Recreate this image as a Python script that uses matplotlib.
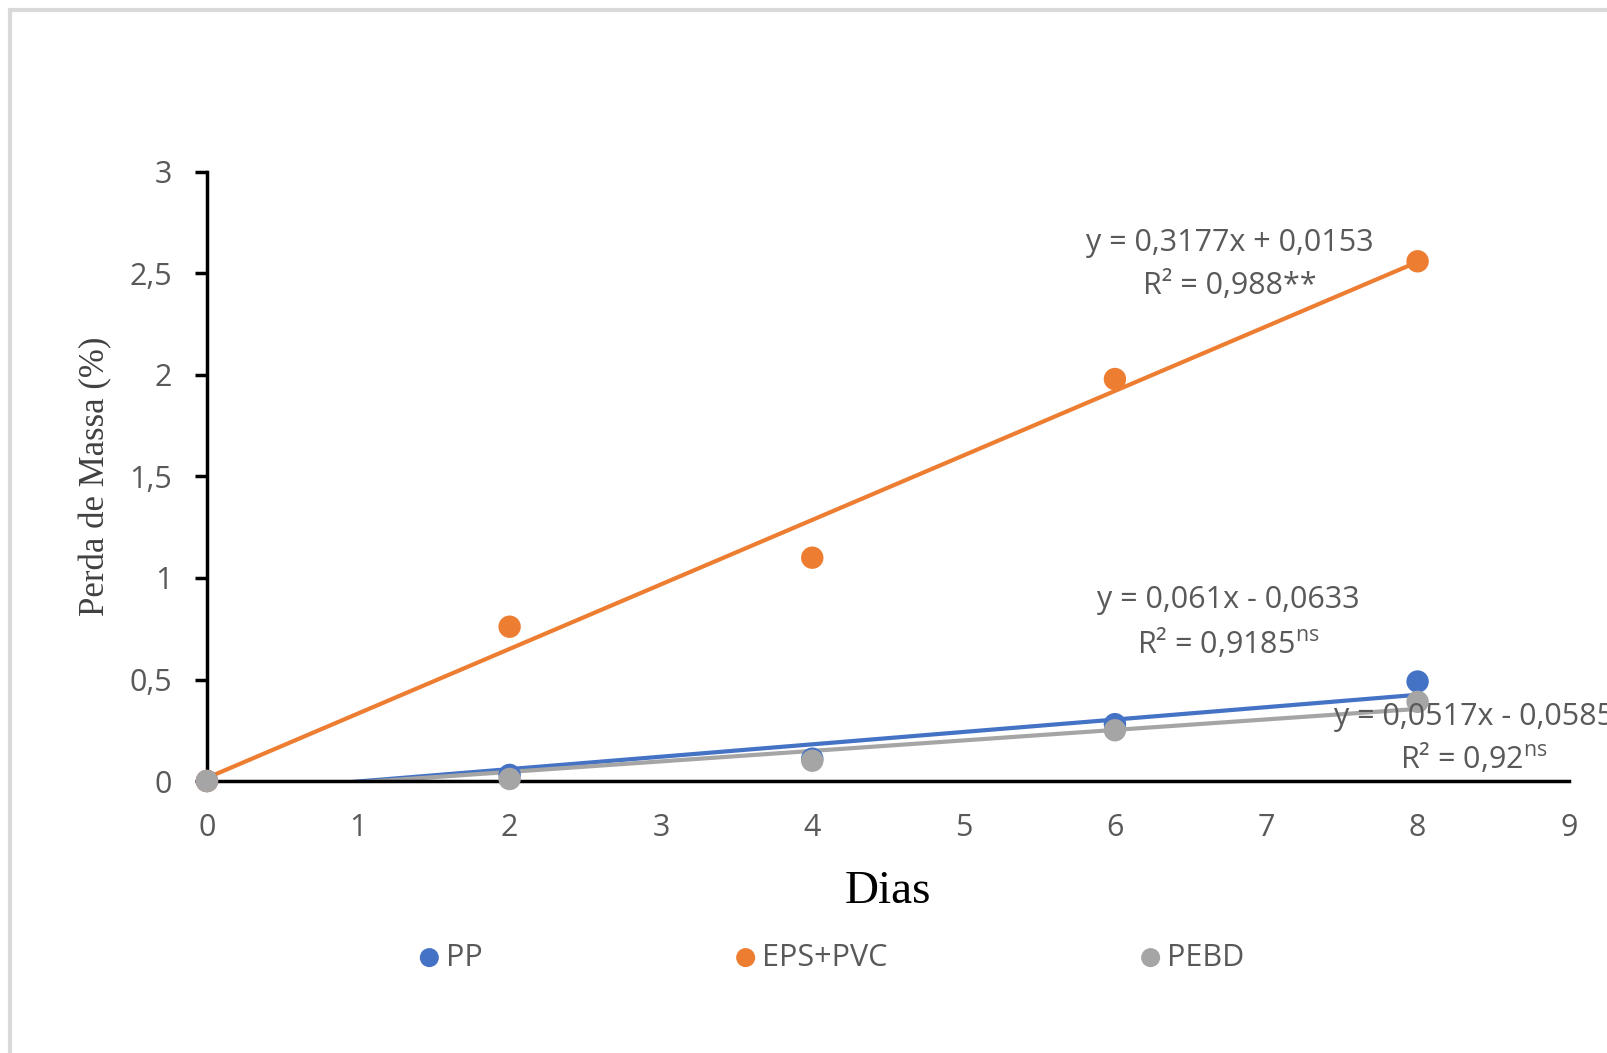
import matplotlib.pyplot as plt
import numpy as np
from matplotlib.patches import Rectangle

# dados
dias = [0, 2, 4, 6, 8]
pp = [0, 0.03, 0.11, 0.28, 0.49]
eps_pvc = [0, 0.76, 1.10, 1.98, 2.56]
pebd = [0, 0.01, 0.10, 0.25, 0.39]

series = ["PP", "EPS+PVC", "PEBD"]
cores = ["#4472C4", "#ED7D31", "#A5A5A5"]
coef_a = [0.061, 0.3177, 0.0517]
coef_b = [-0.0633, 0.0153, -0.0585]
eq_txt = ["y = 0,061x - 0,0633", "y = 0,3177x + 0,0153", "y = 0,0517x - 0,0585"]
r2_txt = [r"R² = 0,9185$^{\mathregular{ns}}$", "R² = 0,988**", r"R² = 0,92$^{\mathregular{ns}}$"]

txt_cor = "#595959"
fonte = "Open Sans"

fig = plt.figure(figsize=(16.08, 10.53), dpi=100)
ax = fig.add_axes([0.1287, 0.2583, 0.8470, 0.5784])

# borda da area do grafico
fig.patches.append(Rectangle((10 / 1608, -0.01), 1.05, (1053 - 10) / 1053 + 0.01,
                             transform=fig.transFigure, fill=False,
                             edgecolor="#d9d9d9", linewidth=3))

valores = [pp, eps_pvc, pebd]
xl = np.array([0, 8])
for i in range(3):
    ax.plot(xl, coef_a[i] * xl + coef_b[i], color=cores[i], lw=3, zorder=2)
for i in range(3):
    ax.scatter(dias, valores[i], s=260, color=cores[i], zorder=3 + i,
               label=series[i], clip_on=False, edgecolors="none")

ax.set_xlim(0, 9)
ax.set_ylim(0, 3)
ax.set_xticks(range(10))
ax.set_yticks([0, 0.5, 1, 1.5, 2, 2.5, 3])
ax.set_yticklabels(["0", "0,5", "1", "1,5", "2", "2,5", "3"])
ax.tick_params(axis="x", length=0, pad=23, labelsize=22, labelcolor=txt_cor)
ax.tick_params(axis="y", length=9, width=2.5, direction="out", pad=16,
               labelsize=22, labelcolor=txt_cor)
for lab in ax.get_xticklabels() + ax.get_yticklabels():
    lab.set_fontfamily(fonte)

for s in ["top", "right"]:
    ax.spines[s].set_visible(False)
for s in ["left", "bottom"]:
    ax.spines[s].set_linewidth(2.5)
    ax.spines[s].set_color("black")

ax.set_xlabel("Dias", fontsize=34, family="Liberation Serif", labelpad=20)
ax.set_ylabel("Perda de Massa (%)", fontsize=25, family="Liberation Serif",
              color="#404040", labelpad=12)

# equacoes
pos = [(6.75, 0.89, 0.68), (6.76, 2.65, 2.44), (8.37, 0.315, 0.113)]
for i in range(3):
    x, y1, y2 = pos[i]
    ax.text(x, y1, eq_txt[i], ha="center", va="center", fontsize=22,
            color=txt_cor, family=fonte, zorder=10, clip_on=False)
    ax.text(x, y2, r2_txt[i], ha="center", va="center", fontsize=22,
            color=txt_cor, family=fonte, zorder=10, clip_on=False)

leg = ax.legend(loc="center", bbox_to_anchor=(0.457, -0.29), ncol=3, frameon=False,
                handletextpad=0.05, handlelength=1.0, columnspacing=8.1,
                markerscale=0.85, prop={"family": fonte, "size": 22})
for t in leg.get_texts():
    t.set_color(txt_cor)

fig.savefig("out.png", dpi=100)
